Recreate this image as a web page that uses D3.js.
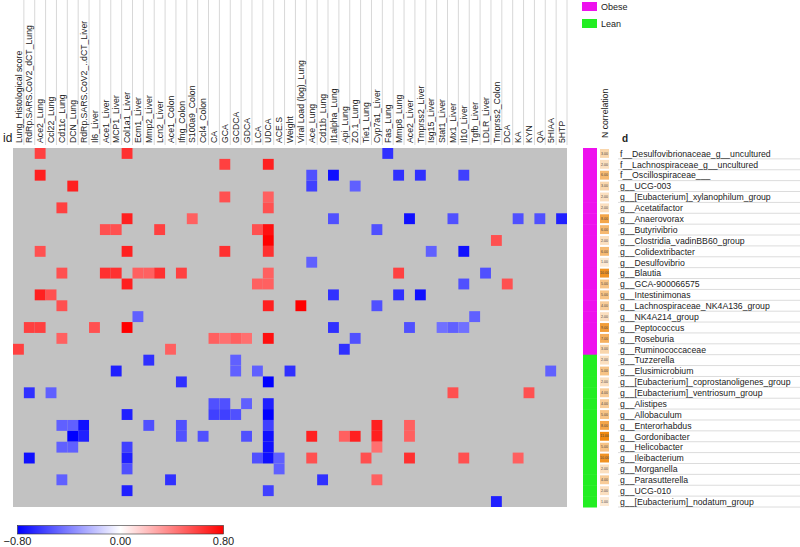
<!DOCTYPE html>
<html><head><meta charset="utf-8">
<script src="https://cdn.jsdelivr.net/npm/d3@7"></script>
<style>body{margin:0;background:#fff}svg{display:block}text{font-family:Arial,"Liberation Sans",sans-serif}</style>
</head><body><svg id="c" width="800" height="547"></svg>
<script>
const columns = ["Lung_Histological score","RdRp.SARS.CoV2_dCT_Lung","Ace2_Lung","Ccl22_Lung","Cd11c_Lung","DCN_Lung","RdRp.SARS.CoV2_..dCT_Liver","Il6_Liver","Ace1_Liver","MCP1_Liver","Col1a1_Liver","Ecm1_Liver","Mmp2_Liver","Lcn2_Liver","Ace1_Colon","Ifng_Colon","S100a9_Colon","Ccl4_Colon","CA","GCA","GCDCA","GDCA","LCA","UDCA","ACE.S","Weight","Viral Load (log)_Lung","Ace_Lung","Cd11b_Lung","Il1alpha_Lung","Api_Lung","ZO.1_Lung","Tie1_Lung","Cyp7a1_Liver","Fas_Lung","Mmp8_Lung","Ace2_Liver","Tmprss2_Liver","Isg15_Liver","Stat1_Liver","Mx1_Liver","Il10_Liver","Tgfb_Liver","LDLR_Liver","Tmprss2_Colon","DCA","KA","KYN","QA","5HIAA","5HTP"];
const rows = ["f__Desulfovibrionaceae_g__uncultured","f__Lachnospiraceae_g__uncultured","f__Oscillospiraceae___","g__UCG-003","g__[Eubacterium]_xylanophilum_group","g__Acetatifactor","g__Anaerovorax","g__Butyrivibrio","g__Clostridia_vadinBB60_group","g__Colidextribacter","g__Desulfovibrio","g__Blautia","g__GCA-900066575","g__Intestinimonas","g__Lachnospiraceae_NK4A136_group","g__NK4A214_group","g__Peptococcus","g__Roseburia","g__Ruminococcaceae","g__Tuzzerella","g__Elusimicrobium","g__[Eubacterium]_coprostanoligenes_group","g__[Eubacterium]_ventriosum_group","g__Alistipes","g__Allobaculum","g__Enterorhabdus","g__Gordonibacter","g__Helicobacter","g__Ileibacterium","g__Morganella","g__Parasutterella","g__UCG-010","g__[Eubacterium]_nodatum_group"];
const groups = ["Obese","Obese","Obese","Obese","Obese","Obese","Obese","Obese","Obese","Obese","Obese","Obese","Obese","Obese","Obese","Obese","Obese","Obese","Obese","Lean","Lean","Lean","Lean","Lean","Lean","Lean","Lean","Lean","Lean","Lean","Lean","Lean","Lean"];
const groupNames = ["Obese","Lean"];
const groupColors = ["#ee11ee","#22ee22"];
// significant correlations per row: [column index, r]
const significant = [
 [[2,0.6],[10,0.65],[34,-0.65]],
 [[19,0.6],[23,0.7]],
 [[2,0.7],[27,-0.55],[29,-0.75],[35,-0.65],[37,-0.65],[41,-0.6]],
 [[5,0.7],[27,-0.6],[31,-0.5]],
 [[19,0.55],[23,0.5]],
 [[4,0.6],[23,0.55]],
 [[10,0.7],[16,0.5],[29,-0.55],[36,-0.75],[40,-0.55],[46,-0.55],[48,-0.55],[50,-0.7]],
 [[8,0.55],[9,0.55],[13,0.6],[22,0.55],[23,0.75],[33,-0.55]],
 [[23,0.8],[44,0.55]],
 [[2,0.55],[10,0.7],[19,0.65],[23,0.65],[38,-0.5],[41,-0.75]],
 [[27,-0.5]],
 [[4,0.55],[8,0.65],[9,0.65],[11,0.5],[12,0.5],[13,0.65],[15,0.6],[23,0.5],[35,0.6],[43,-0.55]],
 [[10,0.7],[22,0.5],[23,0.5],[41,-0.55],[45,0.55]],
 [[2,0.7],[3,0.55],[29,-0.65],[35,-0.65],[37,-0.75]],
 [[4,0.55],[23,0.7],[26,0.85],[33,-0.55]],
 [[11,-0.5],[42,-0.5]],
 [[1,0.6],[2,0.6],[7,0.55],[10,0.8],[29,-0.65],[36,-0.55],[39,-0.45],[40,-0.5],[41,-0.45]],
 [[4,0.5],[18,0.5],[19,0.45],[20,0.5],[21,0.45],[23,0.75],[31,-0.55]],
 [[0,0.6],[14,0.5],[30,-0.65]],
 [[12,-0.65],[20,-0.5]],
 [[9,-0.7],[20,-0.5],[22,-0.5],[25,-0.65],[49,-0.5]],
 [[15,-0.65],[23,-0.8]],
 [[1,-0.65],[3,-0.5],[40,0.55],[47,0.55]],
 [[18,-0.55],[19,-0.55],[21,-0.5],[23,-0.7]],
 [[10,-0.7],[18,-0.6],[19,-0.6],[20,-0.55],[23,-0.85]],
 [[4,-0.5],[5,-0.5],[6,-0.75],[12,-0.55],[15,-0.55],[23,-0.6],[33,0.7],[36,0.5]],
 [[5,-0.8],[6,-0.7],[15,-0.55],[17,-0.55],[21,-0.55],[23,-0.75],[27,0.7],[30,0.5],[31,0.7],[33,0.7],[36,0.5]],
 [[4,-0.5],[5,-0.5],[10,-0.6],[23,-0.75],[33,0.45]],
 [[1,-0.75],[10,-0.7],[22,-0.55],[23,-0.75],[24,-0.5],[27,0.55],[32,0.55],[36,0.65],[41,0.55],[46,0.5]],
 [[10,-0.55],[24,-0.5]],
 [[4,-0.5],[14,-0.65],[28,-0.65],[33,0.5]],
 [[10,-0.7],[23,-0.6]],
 [[44,-0.7]]
];
const colorTicks = [-0.8, 0, 0.8];

const svg = d3.select("#c");
const x = d3.scaleBand().domain(columns).range([13, 567]);
const y = d3.scaleBand().domain(rows).range([148, 507]);
const color = d3.scaleLinear().domain([-0.8, 0, 0.8]).range(["#0000ff", "#ffffff", "#ff0000"]).clamp(true);
const nCounts = significant.map(r => r.length);
const nColor = d3.scaleLinear().domain([0, d3.max(nCounts)]).range(["#fdf2e6", "#f08a10"]);

// column separators & labels
const colG = svg.append("g");
colG.selectAll("line").data(columns).join("line")
  .attr("x1", d => x(d) + x.bandwidth()).attr("x2", d => x(d) + x.bandwidth())
  .attr("y1", 0).attr("y2", 145).attr("stroke", "#d8d8d8").attr("stroke-width", 1);
colG.selectAll("text").data(columns).join("text")
  .attr("transform", d => `translate(${x(d) + x.bandwidth() / 2 + 3.2},143) rotate(-90)`)
  .attr("font-size", 8.7).attr("fill", "#222").text(d => d);
svg.append("text").attr("x", 3).attr("y", 142).attr("font-size", 12).attr("fill", "#222").text("id");

// grid background
svg.append("rect").attr("x", 13).attr("y", 148).attr("width", 554).attr("height", 359).attr("fill", "#c2c2c2");
const cells = significant.flatMap((r, i) => r.map(([c, v]) => ({row: rows[i], col: columns[c], v})));
svg.append("g").selectAll("rect").data(cells).join("rect")
  .attr("x", d => x(d.col)).attr("y", d => y(d.row))
  .attr("width", x.bandwidth()).attr("height", y.bandwidth())
  .attr("fill", d => color(d.v));

// group bar
svg.append("g").selectAll("rect").data(rows).join("rect")
  .attr("x", 583).attr("y", d => y(d)).attr("width", 14).attr("height", y.bandwidth() + 0.5)
  .attr("fill", (d, i) => groupColors[groupNames.indexOf(groups[i])]);

// N correlation boxes
const nG = svg.append("g");
nG.selectAll("rect").data(rows).join("rect")
  .attr("x", 600).attr("y", d => y(d) + 1).attr("width", 9).attr("height", y.bandwidth() - 2)
  .attr("fill", (d, i) => nColor(nCounts[i]));
nG.selectAll("text").data(rows).join("text")
  .attr("x", 604.5).attr("y", d => y(d) + y.bandwidth() / 2 + 1.2).attr("text-anchor", "middle")
  .attr("font-size", 3.5).attr("fill", "#444").text((d, i) => nCounts[i].toFixed(2));
svg.append("text").attr("transform", "translate(608,138) rotate(-90)").attr("font-size", 8.7).attr("fill", "#222").text("N correlation");
svg.append("text").attr("x", 622).attr("y", 142).attr("font-size", 10).attr("font-weight", "bold").attr("fill", "#222").text("d");

// row labels and separators
const rG = svg.append("g");
rG.selectAll("line").data(rows).join("line")
  .attr("x1", 618).attr("x2", 800).attr("y1", d => y(d) + y.bandwidth()).attr("y2", d => y(d) + y.bandwidth())
  .attr("stroke", "#dcdcdc").attr("stroke-width", 1);
rG.selectAll("text").data(rows).join("text")
  .attr("x", 620).attr("y", d => y(d) + y.bandwidth() / 2 + 3.3)
  .attr("font-size", 8.7).attr("fill", "#222").text(d => d);

// legend
const lg = svg.append("g");
groupNames.forEach((g, i) => {
  lg.append("rect").attr("x", 582).attr("y", 2 + i * 17).attr("width", 15).attr("height", 9).attr("fill", groupColors[i]);
  lg.append("text").attr("x", 601).attr("y", 10 + i * 17).attr("font-size", 9).attr("fill", "#222").text(g);
});

// color bar
const defs = svg.append("defs");
const grad = defs.append("linearGradient").attr("id", "cb");
[-0.8, -0.4, 0, 0.4, 0.8].forEach(v => grad.append("stop").attr("offset", (v + 0.8) / 1.6).attr("stop-color", color(v)));
const cx = d3.scaleLinear().domain([-0.8, 0.8]).range([17.5, 223.5]);
svg.append("rect").attr("x", 17.5).attr("y", 525.5).attr("width", 206).attr("height", 8.5)
  .attr("fill", "url(#cb)").attr("stroke", "#333").attr("stroke-width", 0.6);
svg.append("g").selectAll("text").data(colorTicks).join("text")
  .attr("x", d => cx(d)).attr("y", 545).attr("text-anchor", "middle").attr("font-size", 11).attr("fill", "#222")
  .text(d => d3.format(".2f")(d));
</script></body></html>
